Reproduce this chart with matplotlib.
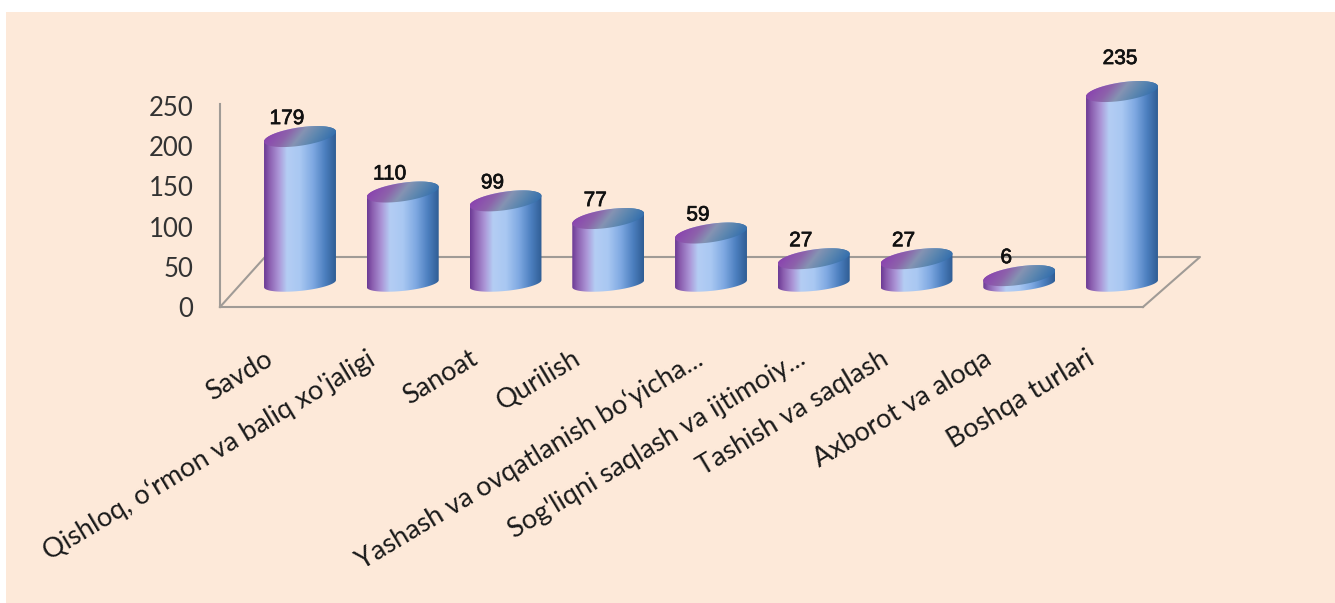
import matplotlib
matplotlib.use("Agg")
import matplotlib.pyplot as plt
import matplotlib.patheffects as pe
import numpy as np
from matplotlib.colors import LinearSegmentedColormap
from matplotlib.patches import Polygon
from matplotlib.transforms import ScaledTranslation

categories = ["Savdo", "Qishloq, o\u2018rmon va baliq xo'jaligi", "Sanoat", "Qurilish",
              "Yashash va ovqatlanish bo\u2018yicha...", "Sog'liqni saqlash va ijtimoiy...",
              "Tashish va saqlash", "Axborot va aloqa", "Boshqa turlari"]
values = [179, 110, 99, 77, 59, 27, 27, 6, 235]
y_ticks = [0, 50, 100, 150, 200, 250]

W, H = 1335, 603
PANEL = "#fde9d9"
AXIS_COL = "#a09b96"

# panel in pixels, with the chart scale: 102.75 px per category, 0.804 px per unit
left, top, right, bottom = 6, 12, 1335, 603
PX_X, PX_Y = 102.75, 0.804
X0_PX, Y0_PX = 300, 307

body_cmap = LinearSegmentedColormap.from_list("body", [
    (0.0, "#6b3a94"), (0.07, "#8a5cae"), (0.2, "#ab94d6"), (0.32, "#b4cdf4"), (0.5, "#a9c8f2"),
    (0.68, "#7fa9e2"), (0.85, "#4c7fbf"), (1.0, "#2f5d94")])
cap_cmap = LinearSegmentedColormap.from_list("cap", [
    (0.0, "#8a3fb0"), (0.3, "#8d62ab"), (0.5, "#8593b3"), (0.7, "#5f88b0"), (1.0, "#2f6cad")])

fig = plt.figure(figsize=(W / 100, H / 100), dpi=100, facecolor="white")
ax = fig.add_axes([left / W, 1 - bottom / H, (right - left) / W, (bottom - top) / H])
ax.set_facecolor(PANEL)
xlim = ((left - X0_PX) / PX_X, (right - X0_PX) / PX_X)
ylim = ((Y0_PX - bottom) / PX_Y, (Y0_PX - top) / PX_Y)

# floor of the 3D box
x_wall, x_front = (220 - X0_PX) / PX_X, (1143 - X0_PX) / PX_X
x_back_l, x_back_r = (265 - X0_PX) / PX_X, (1200 - X0_PX) / PX_X
y_back = (Y0_PX - 257) / PX_Y
ax.plot([x_wall, x_back_l, x_back_r, x_front], [0, y_back, y_back, 0], color=AXIS_COL, lw=1.5, zorder=1)

RX = 0.35
BASE_Y = 29
TOP_SHIFT = 33


def ellipse(cx, cy, ry, skew, t):
    return np.column_stack([cx + RX * np.cos(t), cy + ry * np.sin(t) + skew * np.cos(t)])


for i, v in enumerate(values):
    top_y = v + TOP_SHIFT
    base_low = ellipse(i, BASE_Y, 9, 4.4, np.linspace(np.pi, 2 * np.pi, 60))
    top_up = ellipse(i, top_y, 11.5, 6.2, np.linspace(0, np.pi, 60))
    body = Polygon(np.vstack([base_low, top_up]), closed=True, transform=ax.transData, fc="none", ec="none")
    ax.add_patch(body)
    ext = [i - RX, i + RX, BASE_Y - 15, top_y + 15]
    im = ax.imshow(np.linspace(0, 1, 256)[None, :], cmap=body_cmap, extent=ext, aspect="auto",
                   origin="lower", zorder=3, interpolation="bilinear")
    im.set_clip_path(body)

    cap_pts = ellipse(i, top_y, 11.5, 6.2, np.linspace(0, 2 * np.pi, 120))
    cap = Polygon(cap_pts, closed=True, transform=ax.transData, fc="none", ec="none")
    ax.add_patch(cap)
    u, w = np.meshgrid(np.linspace(0, 1, 120), np.linspace(0, 1, 60))
    im2 = ax.imshow(np.clip(u - 0.3 * (w - 0.5), 0, 1), cmap=cap_cmap, vmin=0, vmax=1, aspect="auto",
                    extent=[i - RX, i + RX, top_y - 17, top_y + 17], origin="lower", zorder=4,
                    interpolation="bilinear")
    im2.set_clip_path(cap)

    # the last label sits higher above its bar in the original
    dx, dy = (-2, 33) if v == max(values) else (-13, 18)
    ax.annotate(str(v), (i, top_y), xytext=(dx * 0.72, dy * 0.72), textcoords="offset points",
                ha="center", va="center", fontsize=15, family="Liberation Sans", color="#111111",
                zorder=6, path_effects=[pe.withStroke(linewidth=0.5, foreground="#111111")])

ax.set_xlim(xlim)
ax.set_ylim(ylim)

for side in ["top", "right"]:
    ax.spines[side].set_visible(False)
ax.spines["left"].set_position(("data", x_wall))
ax.spines["left"].set_bounds(0, 253)
ax.spines["bottom"].set_position(("data", 0))
ax.spines["bottom"].set_bounds(x_wall, x_front)
for side in ["left", "bottom"]:
    ax.spines[side].set_color(AXIS_COL)
    ax.spines[side].set_linewidth(1.5)

ax.set_yticks(y_ticks)
ax.set_yticklabels([str(t) for t in y_ticks], family="Lato", fontsize=18.5, color="#333333")
ax.tick_params(axis="y", length=0, pad=19)

ax.set_xticks(range(len(categories)))
ax.set_xticklabels(categories, family="Lato", fontsize=19.5, color="#1a1a1a", rotation=31,
                   ha="right", va="top", rotation_mode="anchor")
ax.tick_params(axis="x", length=0, pad=28)
for lab in ax.get_xticklabels():
    # truncated labels run further right in the original
    dx_pt = -12 if lab.get_text().endswith("...") else -26
    lab.set_transform(lab.get_transform() + ScaledTranslation(dx_pt / 72, 0, fig.dpi_scale_trans))

fig.savefig("out.png", dpi=100, facecolor="white")
